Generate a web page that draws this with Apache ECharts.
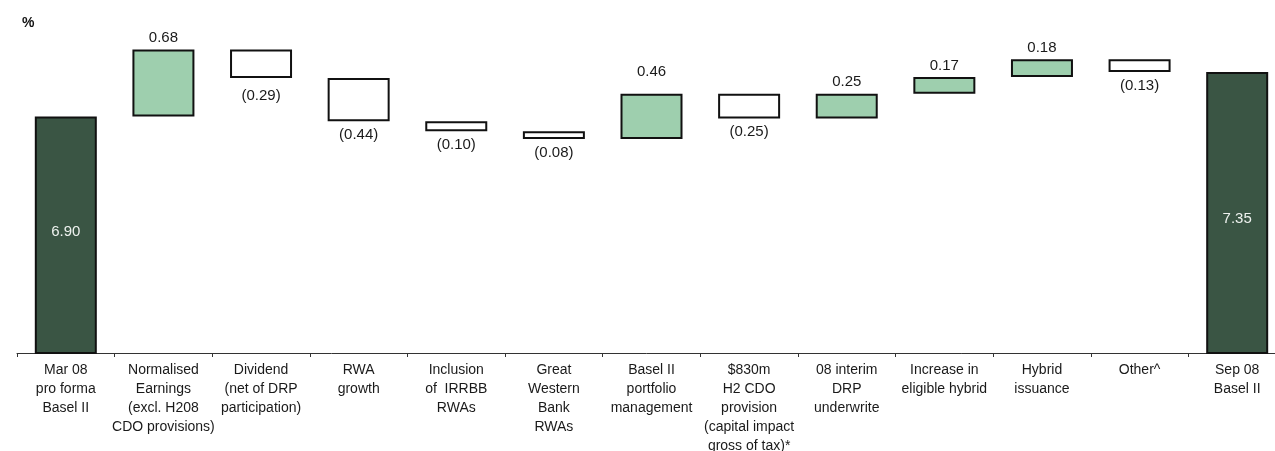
<!DOCTYPE html>
<html>
<head>
<meta charset="utf-8">
<title>Tier 1 capital ratio movement</title>
<script src="https://cdn.jsdelivr.net/npm/echarts@6/dist/echarts.min.js"></script>
<style>
  html, body { margin: 0; padding: 0; background: #ffffff; }
  #chart { width: 1275px; height: 451px; }
</style>
</head>
<body>
<div id="chart"></div>
<script>
// Waterfall categories, left to right
const categories = [
  'Mar 08\npro forma\nBasel II',
  'Normalised\nEarnings\n(excl. H208\nCDO provisions)',
  'Dividend\n(net of DRP\nparticipation)',
  'RWA\ngrowth',
  'Inclusion\nof  IRRBB\nRWAs',
  'Great\nWestern\nBank\nRWAs',
  'Basel II\nportfolio\nmanagement',
  '$830m\nH2 CDO\nprovision\n(capital impact\ngross of tax)*',
  '08 interim\nDRP\nunderwrite',
  'Increase in\neligible hybrid',
  'Hybrid\nissuance',
  'Other^',
  'Sep 08\nBasel II'
];

// Opening and closing ratios (%)
const openingRatio = 6.90;
const closingRatio = 7.35;

// Movements between the two (%), one per middle category
const movements = [0.68, -0.29, -0.44, -0.10, -0.08, 0.46, -0.25, 0.25, 0.17, 0.18, -0.13];

// Value axis range (%)
const axisMin = 4.5;
const axisMax = 8.0;

// ---- build the stacked waterfall (invisible base + visible step) ----
const round2 = v => Math.round(v * 100) / 100;
const DARK = '#3a5544';
const LIGHT = '#9ecfae';

const baseData = [];
const stepData = [];
const labelText = [];

// small vertical nudges for individual labels
const labelNudge = { 0: [0, -3], 2: [0, 4], 6: [0, -10], 12: [0, 6] };

function totalItem(v, idx) {
  return {
    value: v,
    itemStyle: { color: DARK },
    label: {
      position: 'inside',
      color: '#eef2ef',
      offset: labelNudge[idx] || [0, 0]
    }
  };
}

baseData.push(0);
stepData.push(totalItem(openingRatio, 0));
labelText.push(openingRatio.toFixed(2));

let level = openingRatio;
movements.forEach((m, i) => {
  const idx = i + 1;
  const next = round2(level + m);
  baseData.push(round2(Math.min(level, next)));
  const up = m >= 0;
  stepData.push({
    value: Math.abs(m),
    itemStyle: { color: up ? LIGHT : '#ffffff' },
    label: {
      position: up ? 'top' : 'bottom',
      distance: up ? 4 : 6,
      offset: labelNudge[idx] || [0, 0]
    }
  });
  labelText.push(up ? m.toFixed(2) : '(' + Math.abs(m).toFixed(2) + ')');
  level = next;
});

baseData.push(0);
stepData.push(totalItem(closingRatio, categories.length - 1));
labelText.push(closingRatio.toFixed(2));

const FONT = '"Liberation Sans", Arial, Helvetica, sans-serif';

const chart = echarts.init(document.getElementById('chart'), null, { renderer: 'canvas' });

chart.setOption({
  animation: false,
  backgroundColor: '#ffffff',
  textStyle: { fontFamily: FONT },
  graphic: [{
    type: 'text',
    left: 22,
    top: 16,
    style: { text: '%', font: 'bold 14px ' + FONT, fill: '#111111' }
  }],
  grid: {
    left: 17,
    top: 8,
    width: 1269,
    height: 345,
    containLabel: false,
    outerBoundsMode: 'none'
  },
  xAxis: {
    type: 'category',
    data: categories,
    boundaryGap: true,
    axisLine: { show: true, lineStyle: { color: '#333333', width: 1 } },
    axisTick: { show: true, length: 4, alignWithLabel: false, lineStyle: { color: '#333333' } },
    axisLabel: {
      interval: 0,
      fontFamily: FONT,
      fontSize: 14,
      lineHeight: 19,
      margin: 8,
      color: '#1a1a1a',
      align: 'center'
    },
    splitLine: { show: false }
  },
  yAxis: {
    type: 'value',
    min: axisMin,
    max: axisMax,
    show: false,
    splitLine: { show: false }
  },
  series: [
    {
      name: 'base',
      type: 'bar',
      stack: 'waterfall',
      barWidth: 62,
      silent: true,
      itemStyle: { color: 'rgba(0,0,0,0)', borderWidth: 0 },
      emphasis: { disabled: true },
      data: baseData
    },
    {
      name: 'movement',
      type: 'bar',
      stack: 'waterfall',
      barWidth: 62,
      itemStyle: { borderColor: '#111111', borderWidth: 2 },
      emphasis: { disabled: true },
      label: {
        show: true,
        fontFamily: FONT,
        fontSize: 15,
        color: '#1a1a1a',
        formatter: p => labelText[p.dataIndex]
      },
      data: stepData
    }
  ]
});
</script>
</body>
</html>
